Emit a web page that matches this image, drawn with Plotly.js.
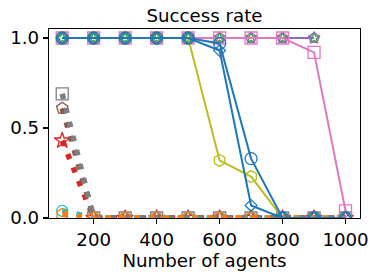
<!DOCTYPE html>
<html>
<head>
<meta charset="utf-8">
<script src="https://cdn.plot.ly/plotly-3.0.1.min.js"></script>
<style>html,body{margin:0;padding:0;background:#fff;}#chart{width:379px;height:275px;}</style>
</head>
<body>
<div id="chart"></div>
<script>
// Number of agents
const agents = [100, 200, 300, 400, 500, 600, 700, 800, 900, 1000];
const agentsTo900 = [100, 200, 300, 400, 500, 600, 700, 800, 900];

// Success rates per method
const blueCircle  = [1, 1, 1, 1, 1, 0.97, 0.33, 0, 0, 0];
const blueDiamond = [1, 1, 1, 1, 1, 0.93, 0.07, 0, 0, 0];
const olive       = [1, 1, 1, 1, 1, 0.32, 0.23, 0, 0, 0];
const pink        = [1, 1, 1, 1, 1, 1, 1, 1, 0.92, 0.04];
const purple      = [1, 1, 1, 1, 1, 1, 1, 1, 1];
const green       = [1, 1, 1, 1, 1, 1, 1, 1, 1];
const gray        = [0.69, 0, 0, 0, 0, 0, 0, 0, 0, 0];
const brown       = [0.61, 0, 0, 0, 0, 0, 0, 0, 0, 0];
const red         = [0.43, 0, 0, 0, 0, 0, 0, 0, 0, 0];
const cyan        = [0.04, 0, 0, 0, 0, 0, 0, 0, 0, 0];
const orange      = [0.02, 0, 0, 0, 0, 0, 0, 0, 0, 0];

const yTicks = [0, 0.5, 1.0];
const yTickText = ['0.0', '0.5', '1.0'];
const xTicks = [200, 400, 600, 800, 1000];

const DOT = '5.5px,9px';
function tr(x, y, color, symbol, size, dotted) {
  return {
    x: x, y: y, type: 'scatter', mode: 'lines+markers', cliponaxis: true,
    line: {color: color, width: dotted ? 5.5 : 2, dash: dotted ? DOT : 'solid'},
    marker: {symbol: symbol, size: size, color: color, line: {color: color, width: 1.3}},
    showlegend: false
  };
}

const traces = [
  tr(agents, red, '#d62728', 'star-open', 12, true),
  tr(agents, brown, '#8c564b', 'pentagon-open', 12, true),
  tr(agents, gray, '#7f7f7f', 'square-open', 12, true),
  tr(agents, cyan, '#17becf', 'circle-open', 11, true),
  tr(agents, orange, '#ff7f0e', 'hexagon-open', 12, true),
  tr(agentsTo900, green, '#2ca02c', 'star-open', 9, false),
  tr(agentsTo900, purple, '#9467bd', 'pentagon-open', 11, false),
  tr(agents, pink, '#e377c2', 'square-open', 12, false),
  tr(agents, olive, '#bcbd22', 'hexagon-open', 12, false),
  tr(agents, blueCircle, '#1f77b4', 'circle-open', 12, false),
  tr(agents, blueDiamond, '#1f77b4', 'diamond-open', 9, false)
];

const font = {family: 'DejaVu Sans', size: 18.2, color: '#000'};
const layout = {
  width: 379, height: 275,
  margin: {l: 49, r: 19, t: 29, b: 57, pad: 0},
  paper_bgcolor: '#fff', plot_bgcolor: '#fff',
  font: font,
  title: {text: 'Success rate', font: font, x: 0.5, xref: 'paper', xanchor: 'center', y: 0.942, yref: 'container', yanchor: 'middle'},
  xaxis: {
    range: [58, 1046], tickvals: xTicks, ticktext: xTicks.map(String),
    showgrid: false, zeroline: false, showline: true, mirror: true,
    linecolor: '#000', linewidth: 1.2, ticks: 'outside', ticklen: 5, tickwidth: 1.1, tickcolor: '#000',
    tickfont: font,
    title: {text: 'Number of agents', font: font, standoff: 3}
  },
  yaxis: {
    range: [0, 1.05], tickvals: yTicks, ticktext: yTickText,
    showgrid: false, zeroline: false, showline: true, mirror: true,
    linecolor: '#000', linewidth: 1.2, ticks: 'outside', ticklen: 5, tickwidth: 1.1, tickcolor: '#000',
    tickfont: font
  }
};

Plotly.newPlot('chart', traces, layout, {displayModeBar: false, staticPlot: true});
</script>
</body>
</html>
